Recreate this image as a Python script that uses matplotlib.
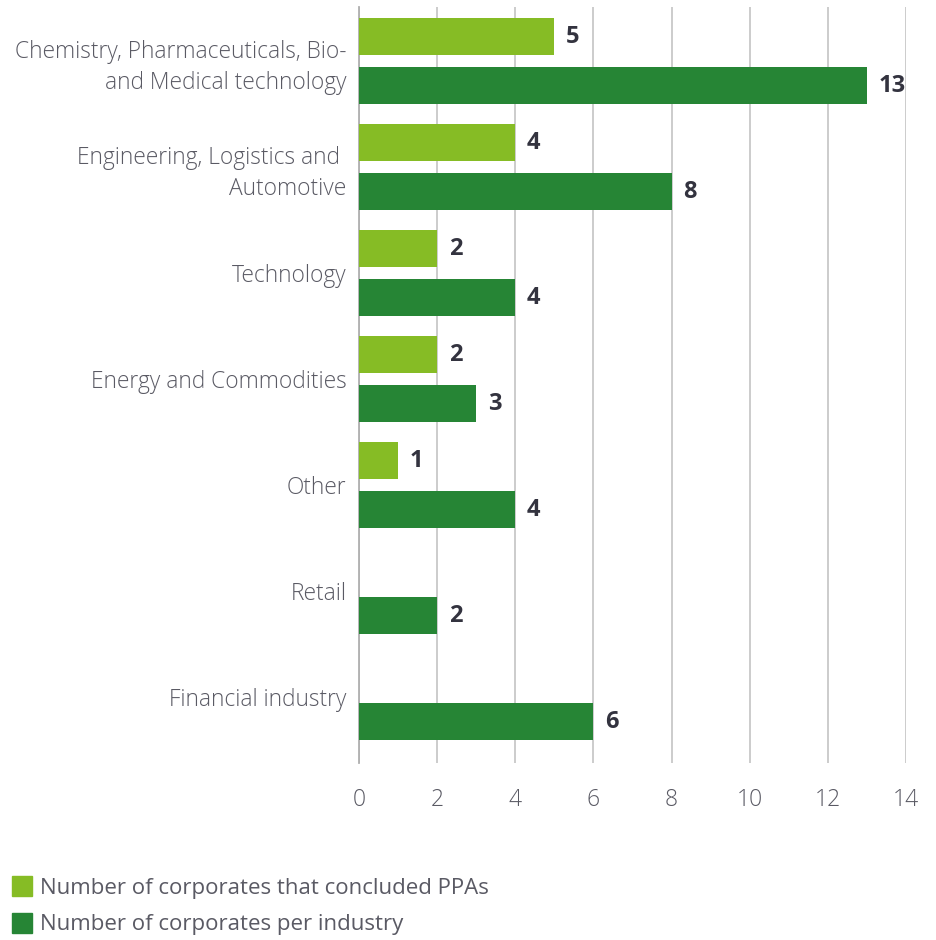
"""Horizontal grouped bars: corporates with PPAs per industry."""
import matplotlib.pyplot as plt
import numpy as np
from matplotlib.patches import Patch

# ------------------ DATA ------------------ #
CATEGORIES = [
    "Chemistry, Pharmaceuticals, Bio-\nand Medical technology",
    "Engineering, Logistics and \nAutomotive",
    "Technology",
    "Energy and Commodities",
    "Other",
    "Retail",
    "Financial industry",
]
PPA_COUNTS = [5, 4, 2, 2, 1, None, None]
INDUSTRY_COUNTS = [13, 8, 4, 3, 4, 2, 6]
SERIES_LABELS = [
    "Number of corporates that concluded PPAs",
    "Number of corporates per industry",
]
X_TICKS = [0, 2, 4, 6, 8, 10, 12, 14]
# ---------------- END DATA ---------------- #

LIGHT = "#86bc25"
DARK = "#268535"
TEXT = "#5a5a64"
VALUE_TEXT = "#33333f"
GRID = "#c8c8c8"

plt.rcParams["font.family"] = ["Open Sans", "DejaVu Sans"]

fig = plt.figure(figsize=(9.37, 9.40), dpi=100)
ax = fig.add_axes([0.383, 0.1883, 0.967 - 0.383, 0.9926 - 0.1883])

y = np.arange(len(CATEGORIES))
offset = 0.231
height = 0.35

for i, v in enumerate(PPA_COUNTS):
    if v is None:
        continue
    ax.barh(y[i] - offset, v, height=height, color=LIGHT, zorder=3)
    ax.text(v + 0.3, y[i] - offset, str(v), va="center", ha="left",
            fontsize=17, fontweight="bold", color=VALUE_TEXT)

for i, v in enumerate(INDUSTRY_COUNTS):
    ax.barh(y[i] + offset, v, height=height, color=DARK, zorder=3)
    ax.text(v + 0.3, y[i] + offset, str(v), va="center", ha="left",
            fontsize=17, fontweight="bold", color=VALUE_TEXT)

ax.set_xlim(0, 14)
ax.set_ylim(6.62, -0.51)
ax.set_xticks(X_TICKS)
ax.set_xticklabels([str(t) for t in X_TICKS], fontsize=16.5, color=TEXT,
                   fontweight="light")
ax.set_yticks(y)
ax.set_yticklabels(CATEGORIES, fontsize=16.4, color=TEXT, fontweight="light",
                   ha="right", linespacing=1.4)
ax.tick_params(axis="y", length=0, pad=9)
ax.tick_params(axis="x", length=0, pad=18)

ax.grid(axis="x", color=GRID, linewidth=1.3, zorder=0)
for side in ["top", "right", "bottom"]:
    ax.spines[side].set_visible(False)
ax.spines["left"].set_color("#b0b0b0")
ax.spines["left"].set_linewidth(1.3)

handles = [Patch(color=LIGHT), Patch(color=DARK)]
fig.legend(handles, SERIES_LABELS, loc="lower left",
           bbox_to_anchor=(0.0128, 0.005), borderpad=0, borderaxespad=0,
           frameon=False, fontsize=16, handlelength=0.9, handleheight=1.0,
           handletextpad=0.35, labelspacing=0.62, labelcolor=TEXT)

fig.savefig("out.png", dpi=100)
